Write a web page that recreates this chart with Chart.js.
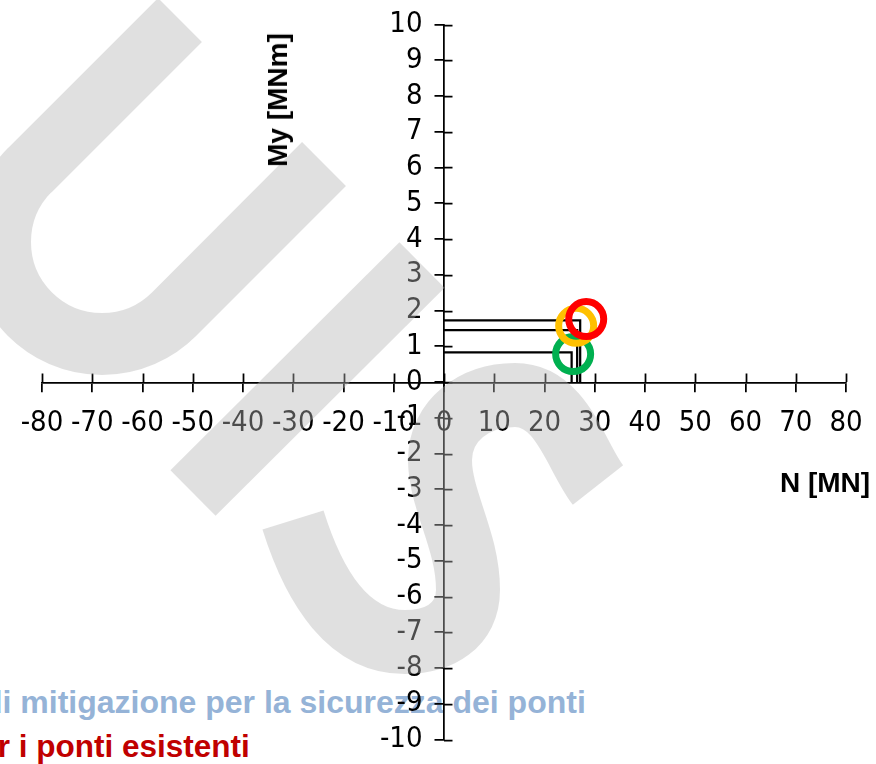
<!DOCTYPE html>
<html>
<head>
<meta charset="utf-8">
<script src="https://cdn.jsdelivr.net/npm/chart.js@4.4.1/dist/chart.umd.min.js"></script>
<style>
  html, body { margin: 0; padding: 0; background: #ffffff; }
  #wrap { position: relative; width: 876px; height: 764px; overflow: hidden;
          font-family: "Liberation Sans", Arial, sans-serif; }
  #wrap canvas { position: absolute; left: 0; top: 0; z-index: 1; }
  .note { position: absolute; white-space: nowrap; font-weight: bold;
          line-height: 1; z-index: 0; }
  .axis-title { position: absolute; white-space: nowrap; font-weight: bold; font-size: 28px;
                line-height: 1; color: #000; z-index: 2; }
</style>
</head>
<body>
<div id="wrap">
  <div class="note" style="left:-17px; top:686px; font-size:32px; color:#95b3d7;">di mitigazione per la sicurezza dei ponti</div>
  <div class="note" style="left:-39px; top:731px; font-size:31.5px; color:#c00000;">per i ponti esistenti</div>
  <canvas id="chart" width="876" height="764"></canvas>
  <div class="axis-title" style="left:278px; top:100px; transform:translate(-50%,-50%) rotate(-90deg);">My [MNm]</div>
  <div class="axis-title" style="left:825px; top:483px; transform:translate(-50%,-50%);">N [MN]</div>
</div>
<script>
// Axis ticks
const xTickValues = [-80, -70, -60, -50, -40, -30, -20, -10, 0, 10, 20, 30, 40, 50, 60, 70, 80];
const yTickValues = [-10, -9, -8, -7, -6, -5, -4, -3, -2, -1, 0, 1, 2, 3, 4, 5, 6, 7, 8, 9, 10];

// Acting forces: axial force N [MN] and bending moment My [MNm]
const forceN  = [25.4, 26.5, 27.1];
const forceMy = [0.83, 1.45, 1.725];

// Resistance check rings (green / yellow / red)
const ringN      = [25.7, 26.3, 28.3];
const ringMy     = [0.78, 1.57, 1.76];
const ringColors = ['#00b050', '#ffc000', '#ff0000'];

// Each acting force is drawn as a bracket: from the My axis across to N, then down to the N axis
const forceSets = forceN.map((n, i) => ({
  data: [{ x: 0, y: forceMy[i] }, { x: n, y: forceMy[i] }, { x: n, y: 0 }],
  showLine: true,
  borderColor: '#000000',
  borderWidth: 2.25,
  pointRadius: 0,
  fill: false,
  order: 10 + i
}));

const ringSets = ringN.map((n, i) => ({
  data: [{ x: n, y: ringMy[i] }],
  showLine: false,
  pointRadius: 17.5,
  pointHoverRadius: 17.5,
  pointBorderWidth: 7,
  pointBorderColor: ringColors[i],
  pointBackgroundColor: 'rgba(0,0,0,0)',
  order: 3 - i
}));

// Other half of the crossing tick marks (Chart.js draws the outer half)
const crossTicks = {
  id: 'crossTicks',
  afterDatasetsDraw(chart) {
    const { ctx, scales: { x, y } } = chart;
    const y0 = y.getPixelForValue(0);
    const x0 = x.getPixelForValue(0);
    ctx.save();
    ctx.strokeStyle = '#000';
    ctx.lineWidth = 1.75;
    ctx.beginPath();
    x.ticks.forEach(t => {
      const px = Math.round(x.getPixelForValue(t.value)) + 0.5;
      ctx.moveTo(px, y0); ctx.lineTo(px, y0 - 8.5);
    });
    y.ticks.forEach(t => {
      const py = Math.round(y.getPixelForValue(t.value)) + 0.5;
      ctx.moveTo(x0, py); ctx.lineTo(x0 + 8.5, py);
    });
    ctx.stroke();
    ctx.restore();
  }
};

// Grey "US" logo laid over the plot
const logo = {
  id: 'logo',
  afterDraw(chart) {
    const ctx = chart.ctx;
    ctx.save();
    ctx.strokeStyle = 'rgba(180,180,180,0.42)';
    ctx.lineCap = 'butt';
    ctx.lineJoin = 'round';
    // U
    ctx.lineWidth = 62;
    ctx.beginPath();
    ctx.moveTo(180, 20);
    ctx.lineTo(30, 170);
    ctx.arc(102, 242, 102, 1.25 * Math.PI, 0.25 * Math.PI, true);
    ctx.lineTo(324, 164);
    ctx.stroke();
    // diagonal bar
    ctx.lineWidth = 64;
    ctx.beginPath();
    ctx.moveTo(422, 265);
    ctx.lineTo(193, 493);
    ctx.stroke();
    // S
    ctx.lineWidth = 64;
    ctx.beginPath();
    ctx.moveTo(598, 485);
    ctx.bezierCurveTo(576, 457, 562, 395, 515, 395);
    ctx.bezierCurveTo(475, 395, 440, 420, 440, 460);
    ctx.bezierCurveTo(440, 500, 468, 540, 468, 590);
    ctx.bezierCurveTo(468, 625, 440, 642, 405, 642);
    ctx.bezierCurveTo(350, 642, 315, 590, 293, 520);
    ctx.stroke();
    ctx.restore();
  }
};

function zeroBox(scale) {
  if (scale.isHorizontal()) { scale.height = 0; } else { scale.width = 0; }
  scale.paddingTop = scale.paddingBottom = scale.paddingLeft = scale.paddingRight = 0;
}

const tickFont = { family: '"Liberation Sans Narrow", "Arial Narrow", "DejaVu Sans Condensed", sans-serif', size: 29 };

new Chart(document.getElementById('chart'), {
  type: 'scatter',
  data: { datasets: [...ringSets, ...forceSets] },
  options: {
    responsive: false,
    animation: false,
    events: [],
    layout: { padding: { left: 42, right: 30, top: 20, bottom: 11 } },
    plugins: { legend: { display: false }, tooltip: { enabled: false } },
    scales: {
      x: {
        type: 'linear',
        position: 'center',
        min: -80, max: 80,
        afterBuildTicks: s => { s.ticks = xTickValues.map(v => ({ value: v })); },
        afterFit: zeroBox,
        grid: { display: true, drawOnChartArea: false, drawTicks: true, tickLength: 8.5,
                color: '#000', lineWidth: 1.75 },
        border: { display: true, color: '#000', width: 1.75 },
        ticks: { color: '#000', font: tickFont, padding: 16, autoSkip: false,
                 maxRotation: 0, minRotation: 0, callback: v => String(v) }
      },
      y: {
        type: 'linear',
        position: 'center',
        min: -10, max: 10,
        afterBuildTicks: s => { s.ticks = yTickValues.map(v => ({ value: v })); },
        afterFit: zeroBox,
        grid: { display: true, drawOnChartArea: false, drawTicks: true, tickLength: 8.5,
                color: '#000', lineWidth: 1.75 },
        border: { display: true, color: '#000', width: 1.75 },
        ticks: { color: '#000', font: tickFont, padding: 13, autoSkip: false,
                 callback: v => String(v) }
      }
    }
  },
  plugins: [crossTicks, logo]
});
</script>
</body>
</html>
